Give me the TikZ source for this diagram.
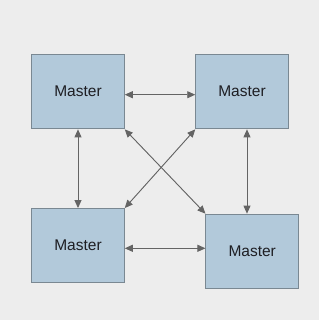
\documentclass[tikz,border=0pt]{standalone}
\usepackage{fontspec}
\setmainfont{Liberation Sans}
\usetikzlibrary{arrows.meta}
\definecolor{bg}{RGB}{237,237,237}
\definecolor{boxfill}{RGB}{178,201,218}
\definecolor{boxline}{RGB}{122,136,146}
\definecolor{arr}{RGB}{100,100,100}
\definecolor{txt}{RGB}{30,30,35}
\begin{document}
\begin{tikzpicture}[x=1pt,y=-1pt,
  master/.style={draw=boxline,line width=0.9pt,fill=boxfill,minimum width=92.6pt,minimum height=74.4pt,inner sep=0pt,
    font=\fontsize{15.5}{18}\selectfont,text=txt},
  link/.style={draw=arr,line width=0.9pt,{Triangle[length=8pt,width=7pt]}-{Triangle[length=8pt,width=7pt]},fill=arr}]
\fill[bg] (0,0) rectangle (319,320);
\useasboundingbox (0,0) rectangle (319,320);
\node[master] (a) at (78,91.7) {Master};
\node[master] (b) at (242,91.7) {Master};
\node[master] (c) at (78,245.7) {Master};
\node[master] (d) at (252.2,251.3) {Master};
\draw[link] ([yshift=-3pt]a.east) -- ([yshift=-3pt]a.east -| b.west);
\draw[link] ([yshift=-2.6pt]c.east) -- ([yshift=-2.6pt]c.east -| d.west);
\draw[link] (a.south) -- (c.north);
\draw[link] ([xshift=5pt]b.south) -- ([xshift=5pt]b.south |- d.north);
\draw[link] (a.south east) -- (d.north west);
\draw[link] (b.south west) -- (c.north east);
\end{tikzpicture}
\end{document}
